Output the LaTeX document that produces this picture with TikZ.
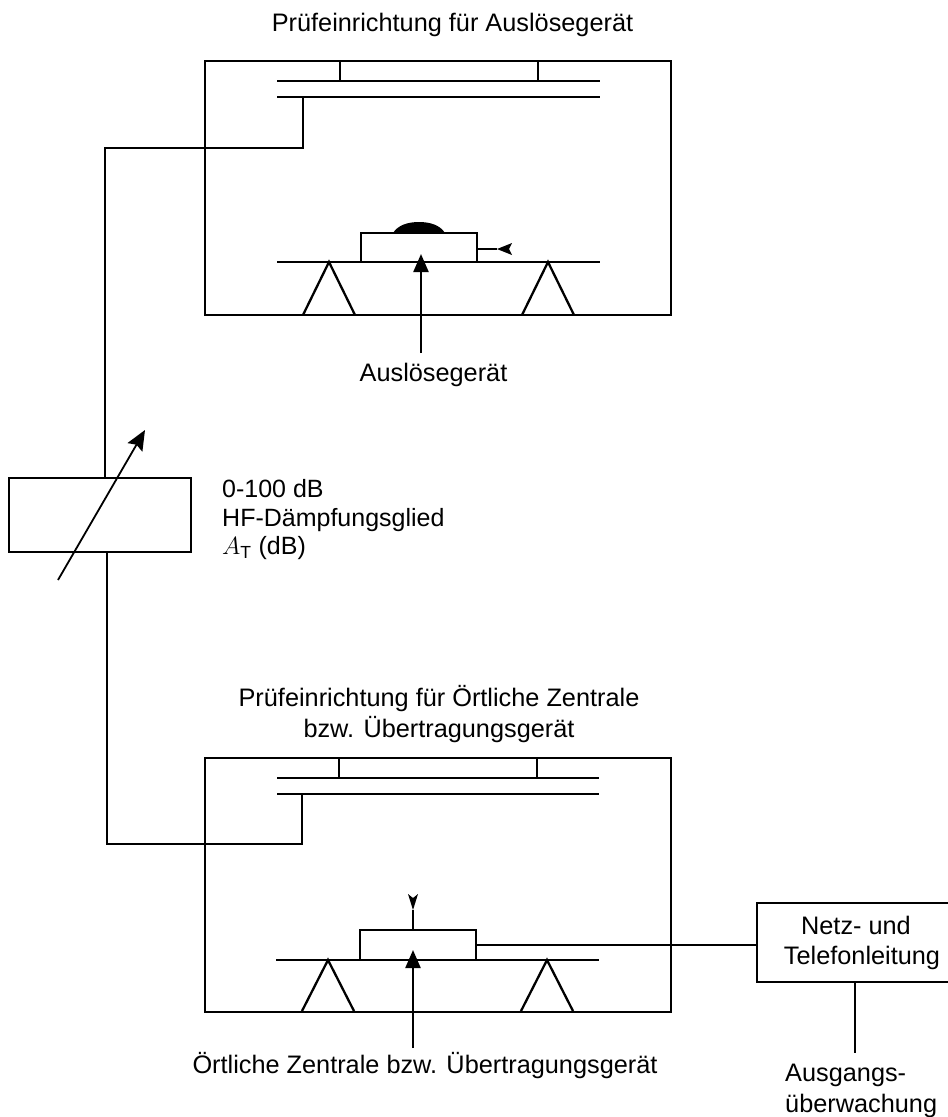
\documentclass[tikz,border=0pt]{standalone}
\usepackage{fontspec}
\usepackage{amsmath}
\setmainfont{Liberation Sans}
\usetikzlibrary{arrows.meta}
\tikzset{
  x=1pt,y=-1pt,
  ln/.style={line width=2.3pt,line cap=butt},
  thin ln/.style={line width=1.6pt},
  boxn/.style={draw,line width=2.3pt,inner sep=0pt,outer sep=0pt,anchor=north west},
  lab/.style={font=\fontsize{25.3}{30.5}\selectfont,align=center,inner sep=0pt},
  solidtip/.style={-{Triangle[length=18pt,width=15pt]}},
  angletip/.style={-{Stealth[length=20pt,width=17pt,inset=3pt]}},
}
\begin{document}
\begin{tikzpicture}
\useasboundingbox (0,0) rectangle (948,1117);
% top assembly
\node[boxn,minimum width=466pt,minimum height=254pt] (topbox) at (205,61) {};
\coordinate (tpl1) at (277,81); \coordinate (tpr1) at (600,81);
\coordinate (tpl2) at (277,97); \coordinate (tpr2) at (600,97);
\draw[ln] (tpl1)--(tpr1); \draw[ln] (tpl2)--(tpr2);
\draw[thin ln] (340,61)--(340,81); \draw[thin ln] (538,61)--(538,81);
\coordinate (tlpl) at (277,262); \coordinate (tlpr) at (600,262);
\draw[ln] (tlpl)--(tlpr);
\node[boxn,fill=white,minimum width=116pt,minimum height=29pt] (tdev) at (361,233) {};
\fill (393,233) .. controls (398,225) and (408,222) .. (419,222) .. controls (430,222) and (440,225) .. (445,233) -- cycle;
\coordinate (twe) at (497,249);
\draw[ln] (tdev.east |- twe) -- (twe);
\fill (twe) -- (512,243) -- (509,249) -- (512,255) -- cycle;
\draw[ln] (303,315)--(329,262)--(355,315);
\draw[ln] (522,315)--(548,262)--(574,315);
\node[lab] (tlabel) at (452.5,25) {Prüfeinrichtung für Auslösegerät};
\node[lab] (tdevlab) at (433.5,375) {Auslösegerät};
\coordinate (tarr) at (421,353);
\draw[ln,solidtip] (tarr) -- (421,254);
% attenuator
\node[boxn,minimum width=182pt,minimum height=74pt] (att) at (9,478) {};
\coordinate (aa) at (58,580); \coordinate (ab) at (145,430);
\draw[line width=1.8pt,angletip] (aa) -- (ab);
\node[lab,align=left,anchor=west,font=\fontsize{25}{28.5}\selectfont] (attlab) at (222,520) {0-100 dB\\HF-Dämpfungsglied\\$A_{\mathrm{T}}$ (dB)};
% bottom assembly
\node[boxn,minimum width=466pt,minimum height=254pt] (botbox) at (205,758) {};
\coordinate (bpl1) at (277,778); \coordinate (bpr1) at (599,778);
\coordinate (bpl2) at (277,794); \coordinate (bpr2) at (599,794);
\draw[ln] (bpl1)--(bpr1); \draw[ln] (bpl2)--(bpr2);
\draw[thin ln] (339,758)--(339,778); \draw[thin ln] (537,758)--(537,778);
\coordinate (blpl) at (276,960); \coordinate (blpr) at (599,960);
\draw[ln] (blpl)--(blpr);
\node[boxn,fill=white,minimum width=116pt,minimum height=30pt] (bdev) at (360,930) {};
\coordinate (bwe) at (413,910);
\draw[ln] (bdev.north -| bwe) -- (bwe);
\fill (bwe) -- (408,894) -- (413,898) -- (418,894) -- cycle;
\draw[ln] (302,1011)--(328,960)--(354,1011);
\draw[ln] (521,1011)--(547,960)--(573,1011);
\node[lab] (blabel) at (439,714) {Prüfeinrichtung für Örtliche Zentrale\\bzw. Übertragungsgerät};
\node[lab] (bdevlab) at (425,1066) {Örtliche Zentrale bzw. Übertragungsgerät};
\coordinate (barr) at (413,1048);
\draw[ln,solidtip] (barr) -- (413,950);
% attenuator wires
\draw[ln] (att.north -| 105,0) |- (303,148) -- (tpl2 -| 303,0);
\draw[ln] (att.south -| 107,0) |- (302,844) -- (bpl2 -| 302,0);
% right box (runs off the right edge of the picture)
\node[boxn,minimum width=194pt,minimum height=79pt] (netz) at (757,903) {};
\node[lab] (netzlab) at (862,943) {Netz- und\hspace*{12pt}\\Telefonleitung};
\draw[ln] (bdev.east |- 0,945) -- (netz.west |- 0,945);
\coordinate (nend) at (855,1053);
\draw[ln] (netz.south -| nend) -- (nend);
\node[lab,align=left,anchor=west] (mon) at (785,1091) {Ausgangs-\\überwachung};
\end{tikzpicture}
\end{document}
